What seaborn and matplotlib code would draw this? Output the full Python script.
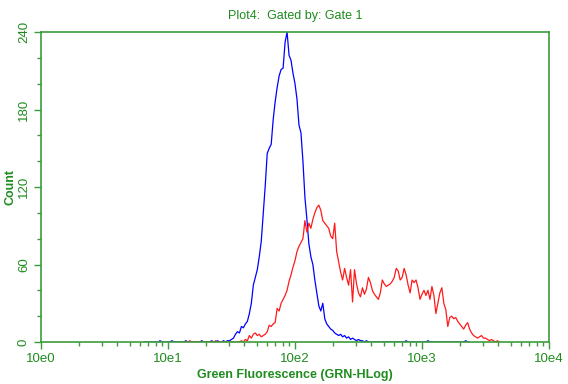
import numpy as np
import pandas as pd
import matplotlib
matplotlib.use("Agg")
import matplotlib.pyplot as plt
import seaborn as sns
from matplotlib.ticker import MultipleLocator, LogLocator, NullFormatter

# ---- data (HLog channels: 256 channels over 4 decades) ----
blue_start = 52
blue_counts = [0, 0, 0, 0, 0, 0, 0, 0, 1, 0, 0, 0, 0, 0, 1, 0, 0, 0, 0, 0,
               0, 1, 0, 0, 0, 0, 0, 0, 0, 1, 0, 0, 0, 0, 1, 0, 0, 1, 0, 0,
               1, 0,
               1, 1, 2, 3, 6, 8, 7, 12, 11, 14, 16, 22, 30, 44, 50, 56, 66, 78,
               100, 121, 146, 150, 153, 172, 186, 197, 206, 211, 212, 232, 240,
               222, 218, 208, 200, 188, 168, 162, 140, 112, 95, 76, 66, 60, 48,
               38, 28, 24, 30, 18, 14, 12, 10, 9, 7, 6, 5, 6, 4, 5, 3, 4, 2, 3,
               2, 1, 2, 1, 1, 0, 1, 0, 0, 0, 0, 0, 0, 0, 0, 0, 0, 0, 0, 0, 0, 0,
               0, 0, 0, 0, 1, 0, 0, 0, 0, 0, 0, 0, 0, 0, 0, 1, 0, 0, 0, 0, 0, 0,
               0, 0, 0, 0, 0, 0, 0, 0, 0, 0, 0, 0, 1, 0, 0]

red_start = 70
red_counts = [0, 0, 0, 0, 0, 1, 0, 0, 0, 0, 0, 0, 0, 0, 0, 0, 0, 0, 1, 0,
              0, 0, 0, 0, 0, 0, 0, 0, 0, 0,
              0, 1, 0, 2, 1, 5, 3, 6, 7, 5, 6, 4, 5, 6, 8, 13, 12, 14, 15, 26,
              24, 30, 33, 36, 40, 47, 52, 58, 63, 70, 74, 77, 80, 94, 85, 92,
              88, 95, 100, 104, 106, 102, 94, 92, 90, 88, 82, 80, 92, 70, 62,
              54, 48, 57, 50, 44, 56, 31, 56, 45, 38, 35, 42, 37, 41, 50, 46,
              40, 37, 35, 33, 38, 48, 45, 43, 44, 45, 47, 50, 57, 55, 48, 50,
              57, 52, 44, 38, 48, 46, 48, 42, 33, 37, 40, 36, 40, 33, 43, 36,
              22, 30, 38, 42, 30, 25, 12, 19, 20, 18, 19, 16, 14, 12, 10, 13,
              15, 10, 7, 5, 4, 3, 4, 5, 3, 3, 2, 1, 2, 1, 0, 1, 0]

channels_per_decade = 64
x_tick_values = [1, 10, 100, 1000, 10000]
x_tick_labels = ["10e0", "10e1", "10e2", "10e3", "10e4"]
y_ticks = [0, 60, 120, 180, 240]
title_text = "Plot4:  Gated by: Gate 1"
xlabel_text = "Green Fluorescence (GRN-HLog)"
ylabel_text = "Count"

# ---- build table ----
blue_ch = np.arange(blue_start, blue_start + len(blue_counts))
red_ch = np.arange(red_start, red_start + len(red_counts))
df_blue = pd.DataFrame({"fl": 10 ** (blue_ch / channels_per_decade),
                        "count": blue_counts, "sample": "blue"})
df_red = pd.DataFrame({"fl": 10 ** (red_ch / channels_per_decade),
                       "count": red_counts, "sample": "red"})

sns.set_style("white")
plt.rcParams['font.family'] = ['Liberation Sans', 'DejaVu Sans']

green_txt = "#1f8c1f"
green_axis = "#3c9c3c"

fig = plt.figure(figsize=(5.68, 3.84), dpi=100)
ax = fig.add_axes([41 / 568, 1 - 342 / 384, 508 / 568, 310 / 384])

sns.lineplot(data=df_blue, x="fl", y="count", color="#0000ff", lw=0.9, ax=ax,
             estimator=None, sort=True)
sns.lineplot(data=df_red, x="fl", y="count", color="#ff1a1a", lw=0.9, ax=ax,
             estimator=None, sort=True)

ax.set_xscale("log")
ax.set_xlim(1, 10000)
ax.set_ylim(0, 240)

ax.set_xticks(x_tick_values)
ax.set_xticklabels(x_tick_labels)
ax.xaxis.set_minor_locator(LogLocator(base=10, subs=np.arange(2, 10)))
ax.xaxis.set_minor_formatter(NullFormatter())
ax.set_yticks(y_ticks)
ax.set_yticklabels([str(v) for v in y_ticks], rotation=90, va="center")
ax.yaxis.set_minor_locator(MultipleLocator(20))

ax.tick_params(axis="both", which="major", direction="out", length=5,
               width=1, color=green_axis, labelcolor=green_txt, labelsize=9.5,
               pad=3, bottom=True, left=True)
ax.tick_params(axis="both", which="minor", direction="out", length=3,
               width=1, color=green_axis, bottom=True, left=True)

for s in ax.spines.values():
    s.set_color(green_axis)
    s.set_linewidth(1.2)
    s.set_visible(True)

ax.set_xlabel(xlabel_text, color=green_txt, fontsize=9, fontweight="bold",
              labelpad=3)
ax.set_ylabel(ylabel_text, color=green_txt, fontsize=9, fontweight="bold",
              labelpad=1)
ax.set_title(title_text, color=green_txt, fontsize=9, pad=9)

fig.savefig("out.png", dpi=100, facecolor="white")
